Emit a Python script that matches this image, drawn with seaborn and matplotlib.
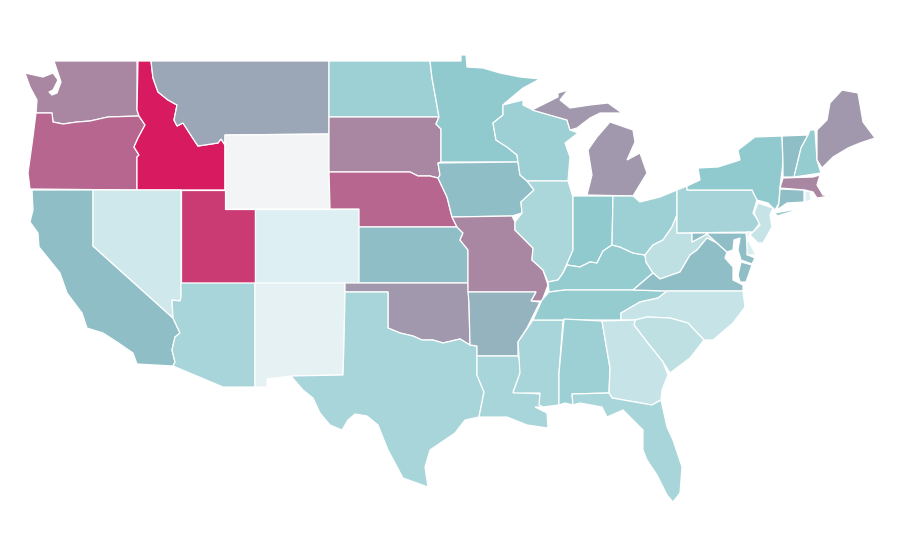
import matplotlib
matplotlib.use("Agg")
import matplotlib.pyplot as plt
import seaborn as sns
from matplotlib.colors import Normalize
from matplotlib.patches import Polygon

# value per state
states = ["WA", "OR", "CA", "ID", "NV", "MT", "WY", "UT", "AZ", "CO", "NM", "ND", "SD", "NE", "KS", "OK",
          "TX", "MN", "IA", "MO", "AR", "LA", "WI", "IL", "MS", "MI", "IN", "KY", "TN", "AL", "OH", "WV",
          "VA", "NC", "SC", "GA", "FL", "PA", "NY", "MD", "DE", "NJ", "CT", "RI", "MA", "VT", "NH", "ME"]
values = [69, 78, 53, 100, 18, 60, 0, 91, 37, 12, 8, 42, 69, 78, 53, 64,
          37, 48, 53, 69, 56, 37, 42, 35, 37, 64, 48, 46, 46, 42, 42, 25,
          53, 22, 25, 22, 37, 38, 48, 53, 14, 22, 53, 12, 69, 53, 46, 64]

# outlines, in the picture's own map units
WA = [(54, 61), (137, 61), (137, 110), (139, 116), (108, 117), (90, 121), (77, 122), (63, 124), (53, 122), (52, 113),
      (36, 113), (37, 100), (30, 87), (25, 73), (43, 77), (53, 73), (58, 80), (53, 90), (49, 92), (52, 95), (57, 93),
      (61, 82), (57, 70)]
OR = [(36, 113), (52, 113), (53, 122), (63, 124), (77, 122), (90, 121), (108, 117), (139, 116), (145, 125), (138, 138),
      (134, 147), (139, 155), (137, 157), (137, 190), (30, 189), (28, 173), (33, 137)]
CA = [(32, 190), (93, 190), (93, 246), (173, 318), (180, 333), (175, 337), (172, 350), (175, 362), (173, 366), (137, 364),
      (133, 353), (117, 342), (103, 333), (87, 328), (82, 313), (67, 293), (60, 273), (48, 258), (39, 247), (38, 233),
      (30, 222), (33, 210)]
ID = [(138, 61), (151, 61), (153, 78), (158, 92), (168, 100), (177, 105), (174, 120), (177, 126), (183, 123), (192, 137),
      (198, 146), (218, 143), (221, 139), (225, 145), (225, 190), (137, 190), (137, 157), (139, 155), (134, 147), (138, 138),
      (145, 125), (139, 116), (137, 110)]
NV = [(93, 190), (181, 190), (181, 297), (180, 301), (172, 300), (173, 318), (93, 246)]
MT = [(151, 61), (329, 61), (329, 134), (225, 135), (225, 145), (221, 139), (218, 143), (198, 146), (192, 137), (183, 123),
      (177, 126), (174, 120), (177, 105), (168, 100), (158, 92), (153, 78)]
WY = [(225, 135), (329, 134), (330, 209), (225, 209)]
UT = [(181, 190), (225, 190), (225, 209), (255, 209), (255, 283), (181, 283)]
AZ = [(181, 283), (255, 283), (255, 387), (223, 387), (173, 366), (175, 362), (172, 350), (175, 337), (180, 333), (173, 318),
      (172, 300), (180, 301), (181, 297)]
CO = [(255, 209), (359, 209), (359, 283), (255, 283)]
NM = [(255, 283), (345, 283), (345, 292), (344, 343), (343, 375), (291, 376), (267, 379), (267, 387), (255, 387)]
ND = [(329, 61), (430, 61), (432, 78), (436, 100), (439, 117), (329, 117)]
SD = [(329, 117), (439, 117), (436, 124), (441, 129), (441, 162), (438, 163), (440, 175), (438, 178), (430, 176), (418, 176),
      (410, 172), (329, 172)]
NE = [(329, 172), (410, 172), (418, 176), (430, 176), (438, 178), (447, 197), (452, 217), (457, 227), (359, 227), (359, 209),
      (330, 209)]
KS = [(359, 227), (457, 227), (463, 233), (460, 240), (468, 250), (468, 283), (359, 283)]
OK = [(345, 283), (468, 283), (469, 303), (470, 345), (460, 339), (443, 343), (433, 340), (422, 340), (413, 336), (400, 333),
      (388, 328), (388, 292), (345, 292)]
TX = [(345, 292), (388, 292), (388, 328), (400, 333), (413, 336), (422, 340), (433, 340), (443, 343), (460, 339), (470, 345),
      (477, 346), (477, 375), (484, 392), (479, 417), (465, 420), (455, 433), (430, 450), (425, 467), (428, 487), (403, 478),
      (388, 450), (378, 425), (367, 416), (355, 414), (348, 420), (342, 430), (330, 425), (320, 413), (313, 398), (303, 390),
      (291, 376), (343, 375), (344, 343)]
MN = [(430, 61), (461, 61), (461, 55), (466, 55), (467, 67), (483, 68), (500, 73), (520, 77), (540, 79), (523, 88),
      (505, 103), (503, 105), (503, 115), (493, 123), (496, 140), (507, 147), (517, 155), (518, 162), (441, 162), (441, 129),
      (436, 124), (439, 117), (436, 100), (432, 78)]
IA = [(438, 163), (518, 162), (520, 175), (527, 181), (534, 190), (521, 202), (522, 213), (512, 216), (452, 217), (447, 197),
      (438, 178), (440, 175)]
MO = [(452, 217), (512, 216), (515, 222), (515, 230), (533, 248), (532, 260), (543, 270), (548, 285), (542, 301), (531, 301),
      (536, 292), (468, 292), (468, 250), (460, 240), (463, 233), (457, 227)]
AR = [(468, 292), (536, 292), (531, 301), (540, 302), (535, 312), (527, 328), (518, 342), (518, 356), (477, 356), (477, 346),
      (470, 345), (469, 303)]
LA = [(477, 356), (518, 356), (522, 368), (513, 392), (540, 394), (542, 407), (535, 407), (547, 413), (548, 428), (527, 425),
      (507, 417), (483, 417), (479, 417), (484, 392), (477, 375)]
WI = [(503, 105), (523, 100), (523, 105), (533, 110), (567, 120), (570, 130), (578, 133), (565, 143), (570, 157), (568, 181),
      (527, 181), (520, 175), (518, 162), (517, 155), (507, 147), (496, 140), (493, 123), (503, 115)]
IL = [(527, 181), (568, 181), (573, 197), (573, 250), (563, 273), (558, 280), (548, 282), (543, 270), (532, 260), (533, 248),
      (515, 230), (515, 222), (522, 213), (521, 202), (534, 190)]
MS = [(533, 320), (563, 320), (559, 373), (559, 405), (543, 407), (539, 405), (540, 393), (513, 393), (520, 373), (518, 342)]
MI_LOWER = [(587, 195), (633, 196), (647, 173), (640, 153), (627, 160), (635, 142), (633, 130), (610, 122), (597, 137),
            (588, 150), (592, 175)]
MI_UPPER = [(532, 110), (558, 97), (558, 93), (568, 90), (560, 100), (570, 108), (590, 105), (608, 103), (622, 113), (600, 113),
            (590, 118), (577, 128), (570, 130), (567, 120)]
IN = [(573, 196), (613, 196), (612, 245), (603, 251), (597, 263), (590, 262), (580, 267), (567, 265), (563, 273), (573, 250)]
KY = [(549, 292), (548, 282), (558, 280), (563, 273), (567, 265), (580, 267), (590, 262), (597, 263), (603, 251), (612, 245),
      (620, 247), (633, 253), (645, 255), (646, 262), (653, 273), (633, 290), (565, 290)]
TN = [(533, 320), (542, 300), (549, 292), (565, 290), (633, 290), (667, 291), (658, 298), (640, 302), (621, 313), (621, 320)]
AL = [(564, 319), (602, 321), (610, 368), (609, 393), (572, 394), (573, 405), (565, 403), (559, 405), (559, 373)]
OH = [(613, 196), (633, 196), (640, 202), (660, 197), (677, 190), (677, 215), (672, 227), (663, 240), (653, 245), (645, 255),
      (633, 253), (620, 247), (612, 245)]
WV = [(645, 255), (653, 245), (663, 240), (672, 227), (677, 215), (677, 233), (692, 233), (692, 242), (707, 234), (717, 243),
      (707, 238), (697, 250), (690, 255), (680, 272), (660, 279), (653, 273), (646, 262)]
VA = [(633, 290), (653, 273), (660, 279), (680, 272), (690, 255), (697, 250), (707, 238), (717, 243), (727, 252), (725, 258),
      (733, 267), (733, 280), (743, 285), (743, 291), (667, 291)]
VA_SHORE = [(741, 262), (752, 265), (746, 282), (740, 282), (738, 275)]
NC = [(621, 320), (621, 313), (640, 302), (658, 298), (667, 291), (743, 291), (745, 307), (733, 323), (713, 340), (704, 340),
      (688, 323), (670, 318), (647, 317), (635, 320)]
SC = [(635, 320), (647, 317), (670, 318), (688, 323), (704, 340), (690, 358), (670, 373), (663, 362), (647, 342), (634, 325)]
GA = [(602, 321), (635, 320), (634, 325), (647, 342), (663, 362), (668, 375), (662, 390), (661, 400), (652, 405), (612, 398),
      (609, 393), (610, 368)]
FL = [(572, 394), (609, 393), (612, 398), (652, 405), (661, 400), (667, 427), (673, 440), (682, 467), (680, 493), (673, 502),
      (667, 495), (657, 475), (647, 460), (643, 450), (643, 430), (623, 410), (607, 417), (602, 407), (580, 403), (573, 405)]
PA = [(677, 190), (687, 186), (687, 190), (752, 190), (757, 200), (753, 213), (760, 223), (753, 232), (677, 233)]
NY = [(687, 190), (687, 186), (700, 180), (698, 168), (718, 167), (740, 160), (738, 150), (755, 137), (782, 136), (783, 163),
      (780, 187), (779, 203), (775, 210), (768, 203), (757, 200), (752, 190)]
NY_ISLAND = [(775, 213), (802, 208), (787, 213), (777, 216)]
MD = [(692, 233), (746, 233), (748, 255), (755, 258), (752, 264), (741, 260), (738, 250), (740, 238), (734, 240), (733, 250),
      (727, 252), (717, 243), (707, 234), (692, 242)]
DE = [(747, 232), (750, 232), (748, 240), (756, 255), (747, 255)]
NJ = [(758, 203), (773, 208), (770, 215), (772, 227), (763, 243), (758, 243), (750, 235), (760, 225), (754, 213)]
CT = [(780, 189), (804, 190), (804, 202), (787, 203), (777, 210), (779, 203)]
RI = [(805, 191), (810, 191), (811, 200), (805, 202)]
MA = [(783, 178), (813, 177), (820, 175), (817, 185), (823, 195), (830, 196), (817, 198), (813, 192), (805, 190), (780, 188)]
VT = [(782, 136), (808, 135), (801, 148), (794, 177), (783, 177), (783, 163)]
NH = [(810, 130), (815, 130), (817, 160), (821, 173), (794, 177), (801, 148), (808, 135)]
ME = [(817, 130), (827, 120), (830, 103), (842, 90), (858, 93), (863, 122), (875, 138), (860, 143), (848, 148), (833, 157),
      (822, 168), (817, 160)]

outlines = {"WA": [WA], "OR": [OR], "CA": [CA], "ID": [ID], "NV": [NV], "MT": [MT], "WY": [WY], "UT": [UT], "AZ": [AZ],
            "CO": [CO], "NM": [NM], "ND": [ND], "SD": [SD], "NE": [NE], "KS": [KS], "OK": [OK], "TX": [TX], "MN": [MN],
            "IA": [IA], "MO": [MO], "AR": [AR], "LA": [LA], "WI": [WI], "IL": [IL], "MS": [MS],
            "MI": [MI_LOWER, MI_UPPER], "IN": [IN], "KY": [KY], "TN": [TN], "AL": [AL], "OH": [OH], "WV": [WV],
            "VA": [VA, VA_SHORE], "NC": [NC], "SC": [SC], "GA": [GA], "FL": [FL], "PA": [PA], "NY": [NY, NY_ISLAND],
            "MD": [MD], "DE": [DE], "NJ": [NJ], "CT": [CT], "RI": [RI], "MA": [MA], "VT": [VT], "NH": [NH], "ME": [ME]}

sns.set_theme(style="white")
# grey -> teal -> magenta, extra stops keep the low end on the teal side
ramp = ["#f3f4f6", "#dceff2", "#bfe0e3", "#a6d4d8", "#8cc8cc", "#9f9db1", "#b27296", "#c5467b", "#d81b60"]
cmap = sns.blend_palette(ramp, as_cmap=True)
norm = Normalize(0, 100)

fig = plt.figure(figsize=(9, 5.6), dpi=100)
ax = fig.add_axes([0, 0, 1, 1])

for state, value in zip(states, values):
    for outline in outlines[state]:
        ax.add_patch(Polygon(outline, closed=True, facecolor=cmap(norm(value)), edgecolor="white", linewidth=0.9))

ax.set_xlim(0, 900)
ax.set_ylim(560, 0)
ax.axis("off")
sns.despine(ax=ax, left=True, bottom=True)

fig.savefig("out.png", dpi=100, facecolor="white")
